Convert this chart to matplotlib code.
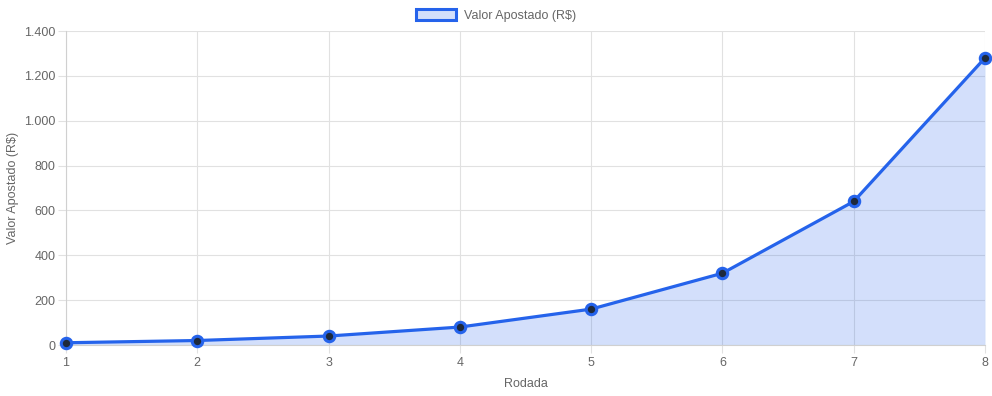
import matplotlib
matplotlib.use("Agg")
import matplotlib.pyplot as plt
from matplotlib.patches import Patch
from matplotlib.ticker import FuncFormatter, MultipleLocator

plt.rcParams['font.family'] = ['Liberation Sans', 'DejaVu Sans']

rodadas = [1, 2, 3, 4, 5, 6, 7, 8]
valores = [10, 20, 40, 80, 160, 320, 640, 1280]
series_label = "Valor Apostado (R$)"

line_color = "#2563eb"
fill_color = (37/255, 99/255, 235/255, 0.2)
grid_color = "#e1e1e1"
text_color = "#666666"

fig = plt.figure(figsize=(9.92, 3.96), dpi=100)
ax = fig.add_axes([66/992, 51/396, (985-66)/992, (345-31)/396])

ax.fill_between(rodadas, valores, 0, color=fill_color, linewidth=0, zorder=2)
ax.plot(rodadas, valores, color=line_color, linewidth=2.3, zorder=3,
        marker='o', markersize=7.5, markerfacecolor="#1e293b",
        markeredgecolor=line_color, markeredgewidth=2.2, clip_on=False)

ax.set_xlim(1, 8)
ax.set_ylim(0, 1400)
ax.yaxis.set_major_locator(MultipleLocator(200))
ax.set_xticks(rodadas)
ax.yaxis.set_major_formatter(FuncFormatter(lambda v, p: f"{int(v):,}".replace(",", ".")))

ax.grid(True, color=grid_color, linewidth=0.8, zorder=0)
ax.set_axisbelow(True)
for s in ['top', 'right']:
    ax.spines[s].set_visible(False)
for s in ['left', 'bottom']:
    ax.spines[s].set_color("#d0d0d0")
    ax.spines[s].set_linewidth(0.8)

ax.tick_params(axis='both', colors=grid_color, labelcolor=text_color, labelsize=9,
               length=6, width=0.8)
ax.tick_params(axis='y', pad=1.5)
ax.tick_params(axis='x', pad=3)

ax.set_xlabel("Rodada", color=text_color, fontsize=9, labelpad=6)
ax.set_ylabel("Valor Apostado (R$)", color=text_color, fontsize=9, labelpad=4)

handle = Patch(facecolor=fill_color, edgecolor=line_color, linewidth=2.2)
fig.legend([handle], [series_label], loc='upper center', bbox_to_anchor=(0.5, 1.0),
           frameon=False, fontsize=9, labelcolor=text_color,
           handlelength=3.2, handleheight=1.0, handletextpad=0.6, borderaxespad=0.3)

fig.savefig("out.png", dpi=100)
